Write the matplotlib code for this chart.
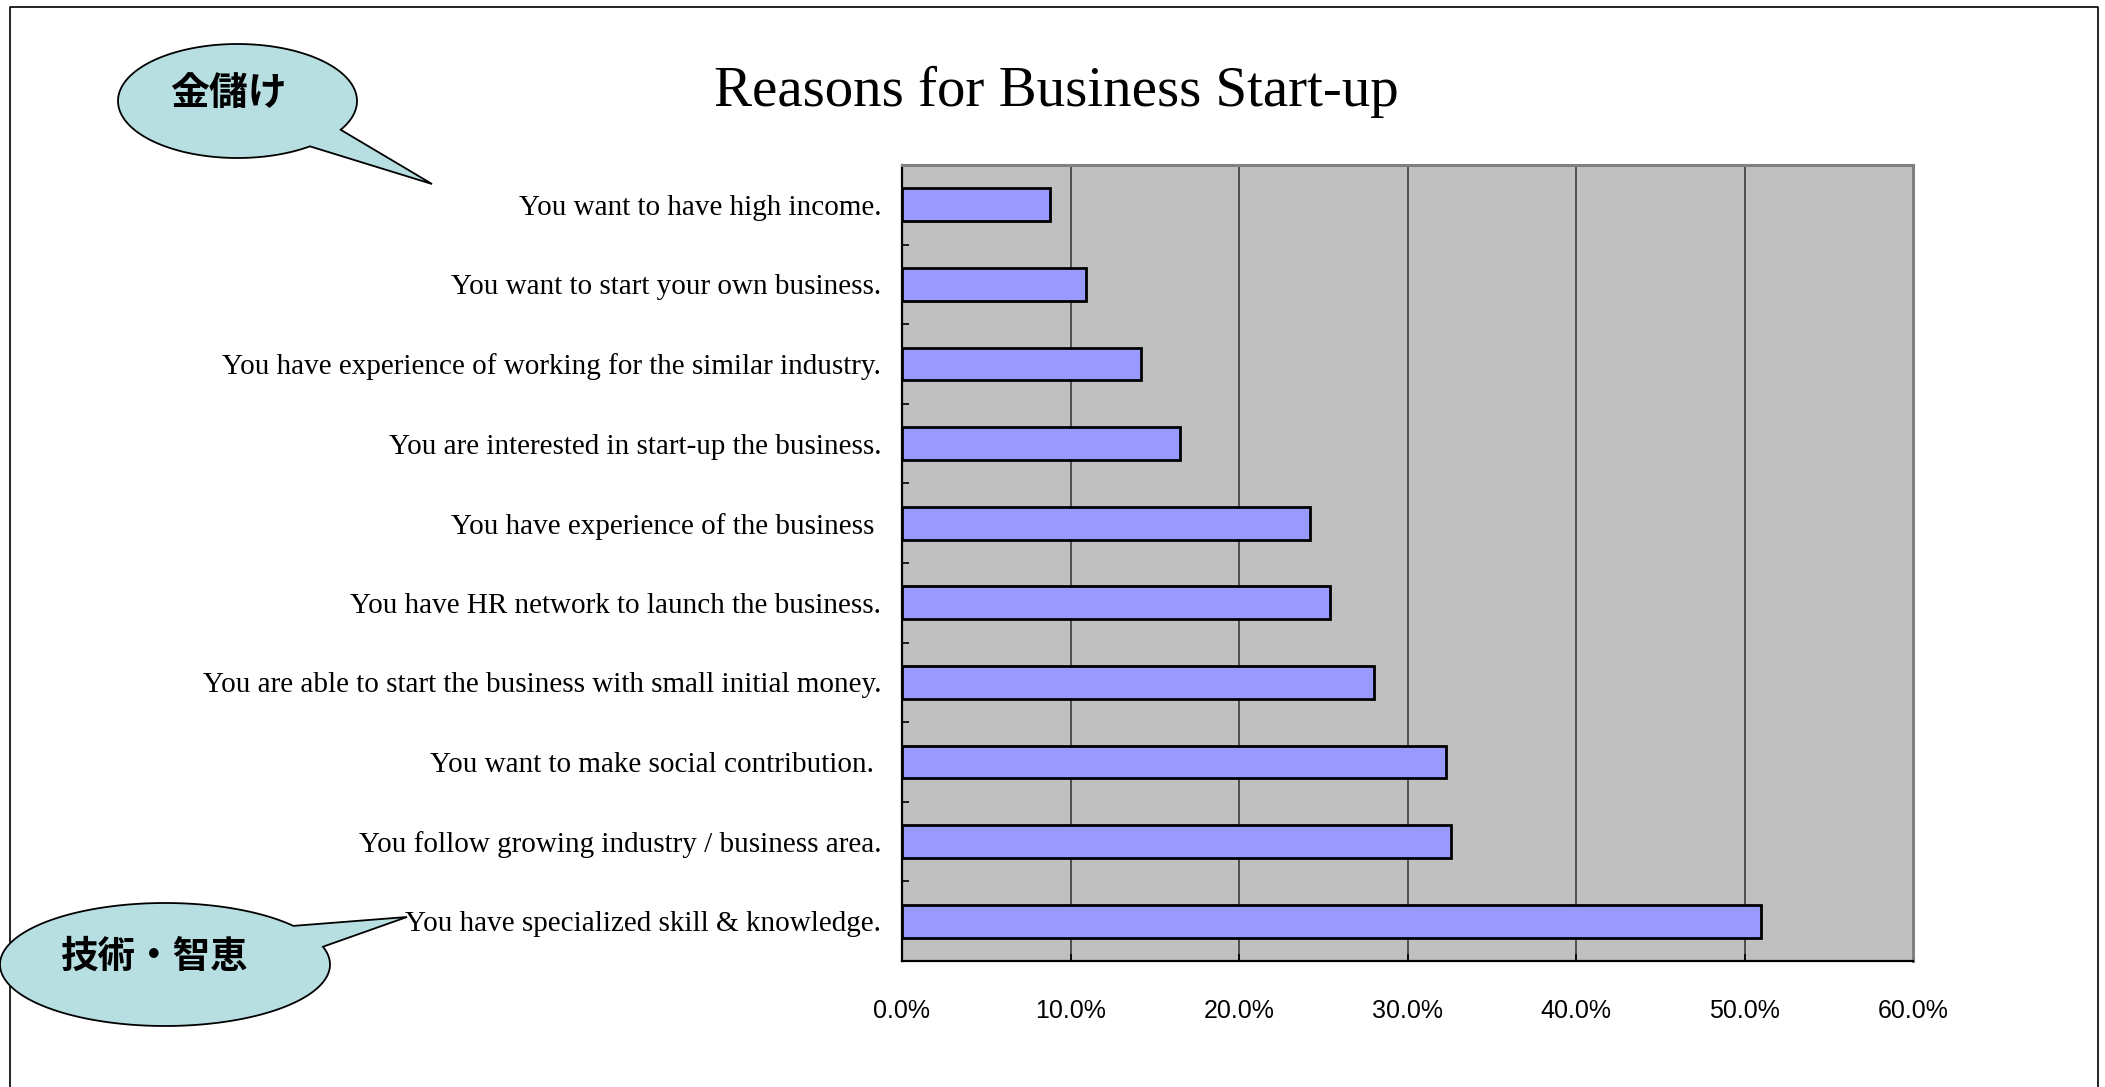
import numpy as np
import matplotlib
matplotlib.use("Agg")
import matplotlib.pyplot as plt
from matplotlib.patches import Polygon
from matplotlib.ticker import FuncFormatter

# ---- data ----
categories = [
    "You want to have high income.",
    "You want to start your own business.",
    "You have experience of working for the similar industry.",
    "You are interested in start-up the business.",
    "You have experience of the business ",
    "You have HR network to launch the business.",
    "You are able to start the business with small initial money.",
    "You want to make social contribution. ",
    "You follow growing industry / business area.",
    "You have specialized skill & knowledge.",
]
values = [0.088, 0.109, 0.142, 0.165, 0.242, 0.254, 0.280, 0.323, 0.326, 0.510]
xticks = [0.0, 0.1, 0.2, 0.3, 0.4, 0.5, 0.6]
title = "Reasons for Business Start-up"
callout_texts = ["金儲け", "技術・智恵"]

W, H = 2105, 1087
fig = plt.figure(figsize=(W / 100, H / 100), dpi=100)
fig.patch.set_facecolor("white")

# main axes (pixel layout)
L, R, T, B = 902, 1913, 165, 961
ax = fig.add_axes([L / W, 1 - B / H, (R - L) / W, (B - T) / H])
ax.set_facecolor("#C0C0C0")
y = np.arange(len(categories))
ax.barh(y, values, height=0.41, color="#9999FF", edgecolor="black", linewidth=2.0, zorder=3)
ax.set_xlim(0, 0.6)
ax.set_ylim(len(categories) - 0.5, -0.5)
ax.set_xticks(xticks)
ax.xaxis.set_major_formatter(FuncFormatter(lambda v, p: f"{v*100:.1f}%"))
ax.set_yticks(y)
ax.set_yticklabels(categories, family=["Liberation Serif"], fontsize=21)
ax.set_yticks(np.arange(-0.5, len(categories), 1.0), minor=True)
ax.tick_params(axis="y", which="major", length=0, pad=15)
ax.tick_params(axis="y", which="minor", length=5, direction="in", width=1.2, color="black")
ax.tick_params(axis="x", which="major", length=5, direction="in", width=1.2, pad=27,
               labelsize=18)
for lab in ax.get_xticklabels():
    lab.set_family(["Liberation Sans Narrow", "Liberation Sans"])
ax.xaxis.grid(True, color="#303030", linewidth=1.1, zorder=1)
ax.set_axisbelow(True)
for s in ["top", "right"]:
    ax.spines[s].set_color("#808080")
    ax.spines[s].set_linewidth(2.2)
for s in ["left", "bottom"]:
    ax.spines[s].set_color("black")
    ax.spines[s].set_linewidth(1.6)

# overlay axes in pixel coordinates for frame, title, callouts
ov = fig.add_axes([0, 0, 1, 1], zorder=5)
ov.set_xlim(0, W)
ov.set_ylim(H, 0)
ov.axis("off")
ov.patch.set_alpha(0)

# page frame
ov.plot([10, 10, 2098, 2098], [H, 7, 7, H], color="black", lw=1.2, clip_on=False)

ov.text(1056, 106, title, family=["Liberation Serif"], fontsize=41,
        ha="center", va="baseline")


def callout(cx, cy, a, b, th1, th2, tip):
    th = np.radians(np.linspace(th2, th1 + 360, 200))
    pts = np.column_stack([cx + a * np.cos(th), cy + b * np.sin(th)])
    pts = np.vstack([pts, tip])
    ov.add_patch(Polygon(pts, closed=True, facecolor="#B7DFE2", edgecolor="black",
                         linewidth=1.3, clip_on=False, zorder=6))


callout(237.5, 101, 119.5, 57, 30.3, 52.7, (432, 184))
callout(165, 964.5, 165, 61.5, -38.9, -16.8, (407, 917))

cjk = ["Noto Sans CJK JP", "DejaVu Sans"]
ov.text(228, 93, callout_texts[0], family=cjk, fontsize=28, fontweight="bold",
        ha="center", va="center", zorder=7)
ov.text(155, 956, callout_texts[1], family=cjk, fontsize=27, fontweight="bold",
        ha="center", va="center", zorder=7)

fig.savefig("out.png", dpi=100)
